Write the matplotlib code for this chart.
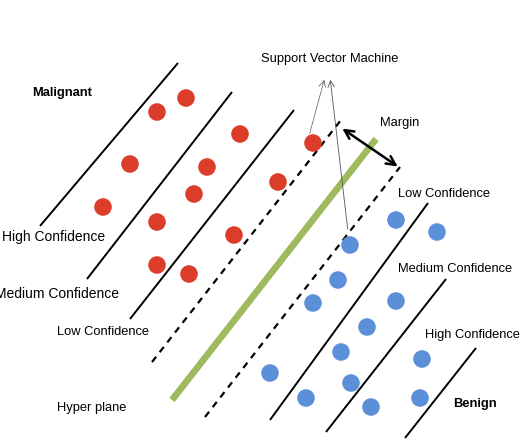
import matplotlib.pyplot as plt

plt.rcParams['font.family'] = ['Liberation Sans', 'DejaVu Sans']

# diagram data, in pixel space of the original picture (x right, y down)
red_x = [157, 186, 240, 130, 207, 278, 103, 194, 157, 234, 157, 189, 313]
red_y = [112, 98, 134, 164, 167, 182, 207, 194, 222, 235, 265, 274, 143]
blue_x = [396, 437, 350, 338, 313, 396, 367, 341, 270, 351, 306, 371, 422, 420]
blue_y = [220, 232, 245, 280, 303, 301, 327, 352, 373, 383, 398, 407, 359, 398]

# solid confidence borders: (x0, y0, x1, y1)
solid_lines = [
    (40, 226, 178, 63),
    (87, 279, 232, 92),
    (130, 319, 294, 110),
    (270, 420, 428, 203),
    (326, 432, 446, 279),
    (405, 438, 476, 348),
]
dashed_lines = [
    (152, 362, 341, 120),
    (205, 417, 400, 167),
]
hyperplane = (172, 400, 376, 139)

fig = plt.figure(figsize=(5.26, 4.4), dpi=100)
ax = fig.add_axes([0, 0, 1, 1])
ax.set_xlim(0, 526)
ax.set_ylim(440, 0)
ax.axis('off')

for x0, y0, x1, y1 in solid_lines:
    ax.plot([x0, x1], [y0, y1], color='black', lw=1.4, solid_capstyle='butt')
for x0, y0, x1, y1 in dashed_lines:
    ax.plot([x0, x1], [y0, y1], color='black', lw=1.6, dashes=(3, 2.6))
ax.plot([hyperplane[0], hyperplane[2]], [hyperplane[1], hyperplane[3]],
        color='#9dbb5e', lw=4.8, solid_capstyle='butt')

ax.scatter(red_x, red_y, s=160, color='#dc3d2a', edgecolors='none', zorder=3)
ax.scatter(blue_x, blue_y, s=160, color='#5b8fd8', edgecolors='none', zorder=3)

# support vector pointers
ax.annotate('', xy=(325, 77), xytext=(309, 136),
            arrowprops=dict(arrowstyle='->', color='#555555', lw=0.6,
                            linestyle=(0, (1, 1)), mutation_scale=12))
ax.annotate('', xy=(330, 77), xytext=(348, 232),
            arrowprops=dict(arrowstyle='->', color='#555555', lw=0.6,
                            mutation_scale=12))

# margin arrow
ax.annotate('', xy=(340, 127), xytext=(400, 168),
            arrowprops=dict(arrowstyle='<->', color='black', lw=1.8,
                            mutation_scale=16))

fs = 9.3
ax.text(32, 93, 'Malignant', fontsize=fs, fontweight='bold', va='center')
ax.text(453, 404, 'Benign', fontsize=fs, fontweight='bold', va='center')
ax.text(261, 59, 'Support Vector Machine', fontsize=fs, va='center')
ax.text(380, 123, 'Margin', fontsize=fs, va='center')
ax.text(398, 194, 'Low Confidence', fontsize=fs, va='center')
ax.text(398, 269, 'Medium Confidence', fontsize=fs, va='center')
ax.text(425, 335, 'High Confidence', fontsize=fs, va='center')
ax.text(105, 237, 'High Confidence', fontsize=10, va='center', ha='right')
ax.text(119, 294, 'Medium Confidence', fontsize=10, va='center', ha='right')
ax.text(57, 332, 'Low Confidence', fontsize=fs, va='center')
ax.text(57, 408, 'Hyper plane', fontsize=fs, va='center')

fig.savefig('out.png', dpi=100)
